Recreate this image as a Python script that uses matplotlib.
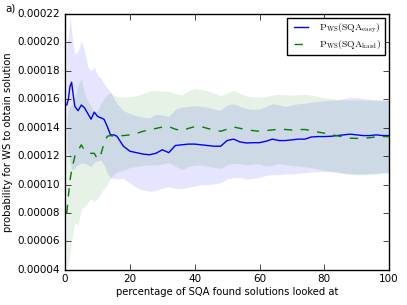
import matplotlib
matplotlib.use("Agg")
import matplotlib.pyplot as plt
from matplotlib.ticker import FormatStrFormatter, MultipleLocator
import numpy as np

plt.style.use("classic")
plt.rcParams["mathtext.fontset"] = "cm"

# percentage of SQA found solutions looked at
pct = [0.5, 1, 1.5, 2, 2.5, 3, 4, 5, 6, 7, 8, 9, 10, 11, 12, 13, 14, 15, 16, 18,
       20, 22, 24, 26, 28, 30, 32, 34, 36, 38, 40, 42, 44, 46, 48, 50, 52, 54, 56, 58,
       60, 62, 64, 66, 68, 70, 72, 74, 76, 78, 80, 82, 84, 86, 88, 90, 92, 94, 96, 98, 100]

# values in units of 1e-5
easy_mean = [15.6, 16.0, 16.9, 17.2, 16.3, 15.5, 15.2, 15.6, 15.4, 15.0, 14.6, 15.1, 14.8, 14.7, 14.6, 14.1, 13.5, 13.5, 13.4, 12.7,
             12.35, 12.25, 12.15, 12.1, 12.2, 12.45, 12.25, 12.75, 12.8, 12.85, 12.85, 12.8, 12.75, 12.7, 12.7, 13.1, 13.2, 13.0, 12.93, 12.95,
             12.95, 13.05, 13.2, 13.1, 13.1, 13.15, 13.2, 13.2, 13.35, 13.38, 13.38, 13.4, 13.45, 13.5, 13.55, 13.5, 13.45, 13.45, 13.5, 13.45, 13.45]
easy_upper = [19.6, 20.5, 21.8, 20.8, 19.8, 19.2, 19.4, 20.1, 19.4, 18.3, 18.0, 18.3, 17.7, 17.5, 17.1, 16.8, 16.5, 16.1, 15.7, 15.2,
              15.0, 14.85, 14.75, 14.7, 14.95, 14.9, 14.8, 15.3, 15.45, 15.5, 15.55, 15.5, 15.45, 15.3, 15.25, 15.6, 15.7, 15.5, 15.35, 15.3,
              15.3, 15.5, 15.7, 15.6, 15.5, 15.6, 15.7, 15.72, 15.8, 15.85, 15.9, 15.95, 15.95, 16.05, 16.12, 16.12, 16.05, 16.0, 15.97, 15.95, 15.95]
easy_lower = [12.4, 12.1, 11.6, 11.1, 11.0, 11.2, 11.4, 11.5, 11.5, 11.4, 11.27, 11.6, 11.65, 11.73, 11.4, 10.8, 10.45, 10.45, 10.4, 10.45,
              10.1, 9.8, 9.62, 9.52, 9.6, 9.75, 9.85, 9.75, 9.72, 9.82, 9.9, 10.0, 10.0, 10.05, 10.15, 10.4, 10.5, 10.5, 10.4, 10.45,
              10.5, 10.65, 10.7, 10.7, 10.75, 10.75, 10.8, 10.85, 10.88, 10.9, 10.92, 10.9, 10.85, 10.8, 10.78, 10.75, 10.75, 10.78, 10.8, 10.83, 10.85]

hard_mean = [8.0, 9.2, 10.3, 11.0, 11.5, 12.0, 12.4, 12.8, 12.4, 12.3, 12.2, 12.2, 11.8, 12.1, 12.9, 13.4, 13.45, 13.4, 13.45, 13.45,
             13.5, 13.6, 13.75, 13.85, 13.95, 14.05, 14.08, 13.9, 13.8, 13.95, 14.08, 14.08, 13.95, 13.85, 13.75, 13.9, 14.05, 13.96, 13.85, 13.8,
             13.75, 13.8, 13.85, 13.9, 13.88, 13.84, 13.87, 13.88, 13.8, 13.7, 13.62, 13.52, 13.44, 13.35, 13.27, 13.25, 13.26, 13.3, 13.36, 13.38, 13.38]
hard_upper = [14.5, 15.3, 15.5, 15.6, 15.9, 16.2, 17.0, 17.5, 16.4, 15.9, 15.5, 15.1, 15.2, 15.7, 16.07, 16.3, 16.5, 16.3, 16.2, 16.15,
              16.2, 16.25, 16.4, 16.58, 16.62, 16.58, 16.55, 16.4, 16.3, 16.6, 16.77, 16.7, 16.6, 16.45, 16.25, 16.45, 16.63, 16.4, 16.23, 16.18,
              16.14, 16.2, 16.3, 16.35, 16.32, 16.3, 16.32, 16.35, 16.3, 16.2, 16.12, 16.05, 16.0, 15.97, 15.95, 15.95, 15.95, 15.95, 15.93, 15.93, 15.93]
hard_lower = [4.1, 4.3, 5.2, 6.0, 6.7, 7.3, 7.15, 8.3, 8.45, 8.75, 9.0, 8.8, 9.0, 9.4, 9.7, 10.0, 10.45, 10.7, 10.9, 11.0,
              11.2, 11.27, 11.35, 11.38, 11.38, 11.45, 11.55, 11.3, 11.05, 11.25, 11.38, 11.38, 11.3, 11.2, 11.15, 11.4, 11.5, 11.45, 11.38, 11.45,
              11.45, 11.3, 11.35, 11.5, 11.4, 11.35, 11.3, 11.25, 11.2, 11.1, 11.0, 10.95, 10.9, 10.78, 10.7, 10.68, 10.68, 10.7, 10.75, 10.8, 10.84]

scale = 1e-5
x = np.array(pct)
em, eu, el = (np.array(v) * scale for v in (easy_mean, easy_upper, easy_lower))
hm, hu, hl = (np.array(v) * scale for v in (hard_mean, hard_upper, hard_lower))

fig = plt.figure(figsize=(4.07, 3.05), dpi=100, facecolor="white")
ax = fig.add_axes([0.16, 0.115, 0.796, 0.839])

ax.fill_between(x, el, eu, color="blue", alpha=0.1, linewidth=0)
ax.fill_between(x, hl, hu, color="green", alpha=0.1, linewidth=0)
ax.plot(x, em, color="blue", lw=1.0, label=r"$\mathrm{P_{WS}(SQA_{easy})}$")
ax.plot(x, hm, color="green", lw=1.0, ls="--", label=r"$\mathrm{P_{WS}(SQA_{hard})}$")

ax.set_xlim(0, 100)
ax.set_ylim(0.00004, 0.00022)
ax.xaxis.set_major_locator(MultipleLocator(20))
ax.yaxis.set_major_locator(MultipleLocator(0.00002))
ax.yaxis.set_major_formatter(FormatStrFormatter("%.5f"))
ax.tick_params(labelsize=7.5, direction="in", length=4, top=True, right=True)
ax.tick_params(axis="x", pad=3)
ax.set_xlabel("percentage of SQA found solutions looked at", fontsize=7.2, labelpad=2)
ax.set_ylabel("probability for WS to obtain solution", fontsize=7.2, labelpad=3)

leg = ax.legend(loc="upper right", fontsize=7, frameon=True, fancybox=False,
                handlelength=2.0, handletextpad=0.9, borderaxespad=0.4,
                labelspacing=0.3, borderpad=0.4)
leg.get_frame().set_edgecolor("black")

fig.text(0.012, 0.955, "a)", fontsize=7.5, ha="left", va="bottom")

fig.savefig("out.png", dpi=100, facecolor="white")
